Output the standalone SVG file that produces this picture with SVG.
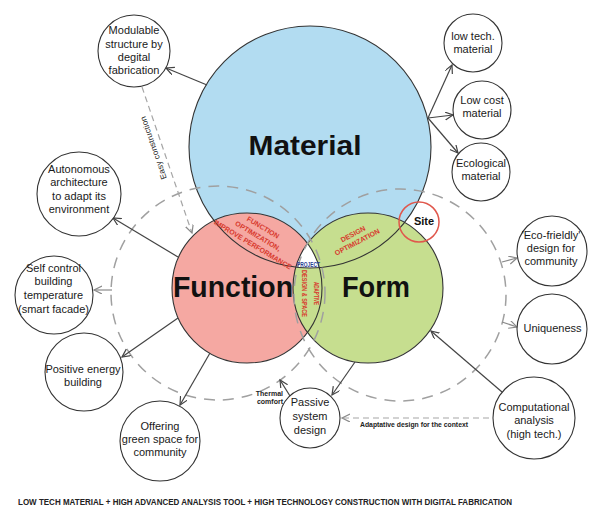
<svg xmlns="http://www.w3.org/2000/svg" width="597" height="522" viewBox="0 0 597 522">
<defs>
<style>
.nd{fill:#fff;stroke:#333;stroke-width:1.1}
.nt{font-family:"Liberation Sans",Arial,sans-serif;font-size:11px;fill:#1a1a1a;text-anchor:middle}
.ar{fill:none;stroke:#444;stroke-width:1.2;marker-end:url(#ah)}
.ag{fill:none;stroke:#8a8a8a;stroke-width:1.2;marker-end:url(#ahg)}
.da{fill:none;stroke:#a5a5a5;stroke-width:1.2;stroke-dasharray:6 4;marker-end:url(#ahg)}
.dc{fill:none;stroke:#a0a0a0;stroke-width:1.5;stroke-dasharray:11 8}
.big{font-family:"Liberation Sans",Arial,sans-serif;font-weight:bold;fill:#111;text-anchor:middle}
.rt{font-family:"Liberation Sans",Arial,sans-serif;font-weight:bold;font-size:7px;fill:#d83a2e;text-anchor:middle}
.sm{font-family:"Liberation Sans",Arial,sans-serif;font-weight:bold;font-size:7px;fill:#222}
.ol{fill:none;stroke:#333;stroke-width:1.1}
</style>
<marker id="ah" markerWidth="10" markerHeight="10" refX="8" refY="4" orient="auto" markerUnits="userSpaceOnUse"><path d="M0,0 L8,4 L0,8" fill="none" stroke="#444" stroke-width="1.2"/></marker>
<marker id="ahg" markerWidth="10" markerHeight="10" refX="8" refY="4" orient="auto" markerUnits="userSpaceOnUse"><path d="M0,0 L8,4 L0,8" fill="none" stroke="#8a8a8a" stroke-width="1.2"/></marker>
<clipPath id="cFn"><circle cx="247" cy="288" r="75"/></clipPath>
<clipPath id="cFm"><circle cx="368" cy="288" r="75"/></clipPath>
</defs>
<rect width="597" height="522" fill="#fff"/>

<g id="venn">
<g id="material"><circle cx="310" cy="147" r="121" fill="#b2dcf1"/></g>
<g id="function"><circle cx="247" cy="288" r="75" fill="#f5a8a2"/></g>
<g id="form"><circle cx="368" cy="288" r="75" fill="#c6de8f"/></g>
<g id="project-area" clip-path="url(#cFn)"><g clip-path="url(#cFm)"><circle cx="310" cy="147" r="121" fill="#fff"/></g></g>
<circle class="ol" cx="310" cy="147" r="121"/>
<circle class="ol" cx="247" cy="288" r="75"/>
<circle class="ol" cx="368" cy="288" r="75"/>
<g id="site"><circle cx="419" cy="222" r="20" fill="none" stroke="#e0574c" stroke-width="1.5"/>
<text x="424" y="225" font-family="Liberation Sans, Arial, sans-serif" font-weight="bold" font-size="11" fill="#111" text-anchor="middle">Site</text></g>
</g>

<g id="zones">
<circle class="dc" cx="218" cy="293" r="107"/>
<circle class="dc" cx="400" cy="295" r="106"/>
</g>

<g id="venn-labels">
<text class="big" x="305" y="155" font-size="28" textLength="113" lengthAdjust="spacingAndGlyphs">Material</text>
<text class="big" x="233" y="297" font-size="29" textLength="120" lengthAdjust="spacingAndGlyphs">Function</text>
<text class="big" x="376" y="297" font-size="29" textLength="68" lengthAdjust="spacingAndGlyphs">Form</text>
<g transform="translate(258,236) rotate(31)">
<text class="rt" y="-7.5">FUNCTION</text>
<text class="rt" y="2.5">OPTIMIZATION,</text>
<text class="rt" y="12.5">IMPROVE PERFORMANCE</text>
</g>
<g transform="translate(355,238) rotate(-28)">
<text class="rt" y="-2">DESIGN</text>
<text class="rt" y="7">OPTIMIZATION</text>
</g>
<g transform="translate(310,293.5) rotate(90)">
<text class="rt" y="-3.5" textLength="23" lengthAdjust="spacingAndGlyphs">ADAPTIVE</text>
<text class="rt" y="8.5" textLength="47" lengthAdjust="spacingAndGlyphs">DESIGN &amp; SPACE</text>
</g>
<text x="308.5" y="267" font-family="Liberation Sans, Arial, sans-serif" font-weight="bold" font-size="6.4" fill="#2a3d94" text-anchor="middle" textLength="23" lengthAdjust="spacingAndGlyphs">PROJECT</text>
</g>

<g id="connectors">
<path class="ar" d="M207,85 L166,68"/>
<path class="ar" d="M428,118 L452,65"/>
<path class="ar" d="M428,118 L453,115"/>
<path class="ar" d="M428,118 L458,153"/>
<path class="ar" d="M178,257 L113,218"/>
<path class="ar" d="M178,318 L122,357"/>
<path class="ar" d="M210,353 L180,405"/>
<path class="ar" d="M355,362 L332,395"/>
<path class="ar" d="M502,392 L431,331"/>
<path class="ar" d="M290,396 L280,380"/>
<path class="ag" d="M112,290 L94,290"/>
<path class="ag" d="M502,262 L517,258"/>
<path class="ag" d="M502,322 L517,327"/>
<path class="da" d="M142,87 L192,233"/>
<path class="da" d="M489,418 L342,418"/>
<text x="156" y="147" transform="rotate(-109 156 147)" font-family="Liberation Sans, Arial, sans-serif" font-size="8" fill="#222" text-anchor="middle" textLength="66" lengthAdjust="spacingAndGlyphs">Easy construction</text>
<text class="sm" x="283" y="396" text-anchor="end">Thermal</text>
<text class="sm" x="283" y="404" text-anchor="end">comfort</text>
<text class="sm" x="414" y="427" text-anchor="middle" textLength="108" lengthAdjust="spacingAndGlyphs">Adaptative design for the context</text>
</g>

<g id="n-modulable"><circle class="nd" cx="134" cy="51" r="36"/>
<text class="nt" x="134" y="34">Modulable</text><text class="nt" x="134" y="47.5">structure by</text><text class="nt" x="134" y="61">degital</text><text class="nt" x="134" y="74">fabrication</text></g>

<g id="n-lowtech"><circle class="nd" cx="473" cy="43" r="29"/>
<text class="nt" x="473" y="40">low tech.</text><text class="nt" x="473" y="53">material</text></g>

<g id="n-lowcost"><circle class="nd" cx="482" cy="110" r="29"/>
<text class="nt" x="482" y="103.5">Low cost</text><text class="nt" x="482" y="117">material</text></g>

<g id="n-ecological"><circle class="nd" cx="481" cy="172" r="29"/>
<text class="nt" x="481" y="167">Ecological</text><text class="nt" x="481" y="180">material</text></g>

<g id="n-autonomous"><circle class="nd" cx="79" cy="194" r="42"/>
<text class="nt" x="79" y="173">Autonomous</text><text class="nt" x="79" y="186">architecture</text><text class="nt" x="79" y="199.5">to adapt its</text><text class="nt" x="79" y="213">environment</text></g>

<g id="n-selfcontrol"><circle class="nd" cx="54" cy="295" r="39"/>
<text class="nt" x="53.5" y="272">Self control</text><text class="nt" x="53.5" y="285">building</text><text class="nt" x="53.5" y="299">temperature</text><text class="nt" x="53.5" y="312.5">(smart facade)</text></g>

<g id="n-positive"><circle class="nd" cx="84" cy="372" r="39"/>
<text class="nt" x="83" y="373">Positive energy</text><text class="nt" x="83" y="386">building</text></g>

<g id="n-offering"><circle class="nd" cx="160" cy="441" r="40"/>
<text class="nt" x="160" y="429.5">Offering</text><text class="nt" x="160" y="443">green space for</text><text class="nt" x="160" y="456">community</text></g>

<g id="n-passive"><circle class="nd" cx="310" cy="418" r="30"/>
<text class="nt" x="310" y="406">Passive</text><text class="nt" x="310" y="420">system</text><text class="nt" x="310" y="433.5">design</text></g>

<g id="n-computational"><circle class="nd" cx="534" cy="418" r="41"/>
<text class="nt" x="534" y="411">Computational</text><text class="nt" x="534" y="424">analysis</text><text class="nt" x="534" y="437.5">(high tech.)</text></g>

<g id="n-eco"><circle class="nd" cx="552" cy="251" r="35"/>
<text class="nt" x="551" y="238.5" font-size="10.5">'Eco-frieldly'</text><text class="nt" x="551" y="252">design for</text><text class="nt" x="551" y="265">community</text></g>

<g id="n-uniqueness"><circle class="nd" cx="552" cy="329" r="35"/>
<text class="nt" x="552.5" y="332">Uniqueness</text></g>

<text x="265" y="505" font-family="Liberation Sans, Arial, sans-serif" font-weight="bold" font-size="8.5" fill="#222" text-anchor="middle" textLength="494" lengthAdjust="spacingAndGlyphs">LOW TECH MATERIAL + HIGH ADVANCED ANALYSIS TOOL + HIGH TECHNOLOGY CONSTRUCTION WITH DIGITAL FABRICATION</text>
</svg>
